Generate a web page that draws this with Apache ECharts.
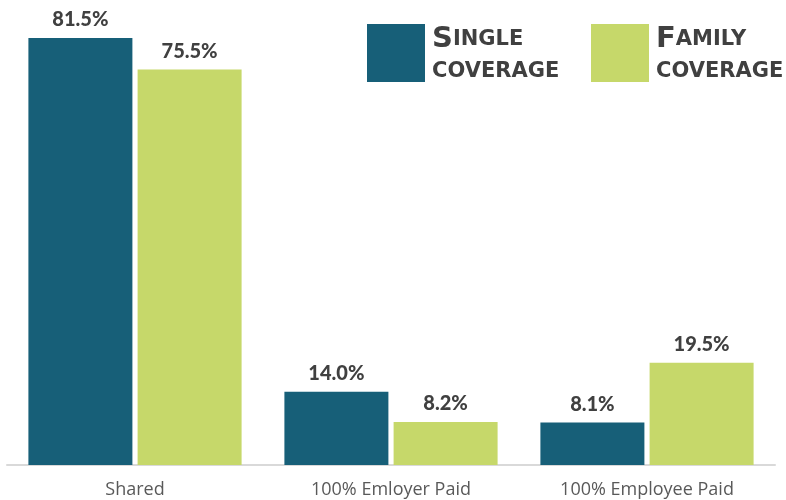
<!DOCTYPE html>
<html><head><meta charset="utf-8">
<script src="https://cdn.jsdelivr.net/npm/echarts@6/dist/echarts.min.js"></script>
<style>html,body{margin:0;padding:0;background:#fff}#c{width:786px;height:500px}</style>
</head><body><div id="c"></div>
<script>
const categories = ['Shared', '100% Emloyer Paid', '100% Employee Paid'];
const singleCoverage = [81.5, 14.0, 8.1];
const familyCoverage = [75.5, 8.2, 19.5];
const seriesNames = ['Single coverage', 'Family coverage'];

const chart = echarts.init(document.getElementById('c'));
const lbl = {
  show: true, position: 'top', distance: 8,
  formatter: p => p.value.toFixed(1) + '%',
  fontFamily: 'Lato', fontWeight: 900, fontSize: 20, color: '#404040'
};
const legendRich = {
  big: {fontFamily: 'DejaVu Sans', fontWeight: 'bold', fontSize: 29, color: '#404040', lineHeight: 32},
  sm: {fontFamily: 'DejaVu Sans', fontWeight: 'bold', fontSize: 21, color: '#404040', lineHeight: 32}
};
function legendFmt(name) {
  const parts = name.toUpperCase().split(' ');
  return '{big|' + parts[0][0] + '}{sm|' + parts[0].slice(1) + '}\n{sm|' + parts[1] + '}';
}
chart.setOption({
  animation: false,
  legend: [
    {data: [seriesNames[0]], left: 367, top: 24, padding: 0, itemWidth: 58, itemHeight: 58, icon: 'rect',
     formatter: legendFmt, textStyle: {rich: legendRich, padding: [5, 0, 0, 2]}},
    {data: [seriesNames[1]], left: 591, top: 24, padding: 0, itemWidth: 58, itemHeight: 58, icon: 'rect',
     formatter: legendFmt, textStyle: {rich: legendRich, padding: [5, 0, 0, 2]}}
  ],
  grid: {left: 7, right: 11, top: 19.6, bottom: 35, containLabel: false},
  xAxis: {
    type: 'category', data: categories,
    axisLine: {lineStyle: {color: '#d9d9d9', width: 2}},
    axisTick: {show: false},
    axisLabel: {fontFamily: 'Open Sans', fontSize: 18, color: '#595959', margin: 16}
  },
  yAxis: {type: 'value', min: 0, max: 85, show: false, splitLine: {show: false}},
  series: [
    {name: seriesNames[0], type: 'bar', data: singleCoverage, barWidth: 104, barGap: '5%',
     itemStyle: {color: '#175F78'}, label: lbl},
    {name: seriesNames[1], type: 'bar', data: familyCoverage, barWidth: 104,
     itemStyle: {color: '#C6D86A'}, label: lbl}
  ]
});
</script></body></html>
